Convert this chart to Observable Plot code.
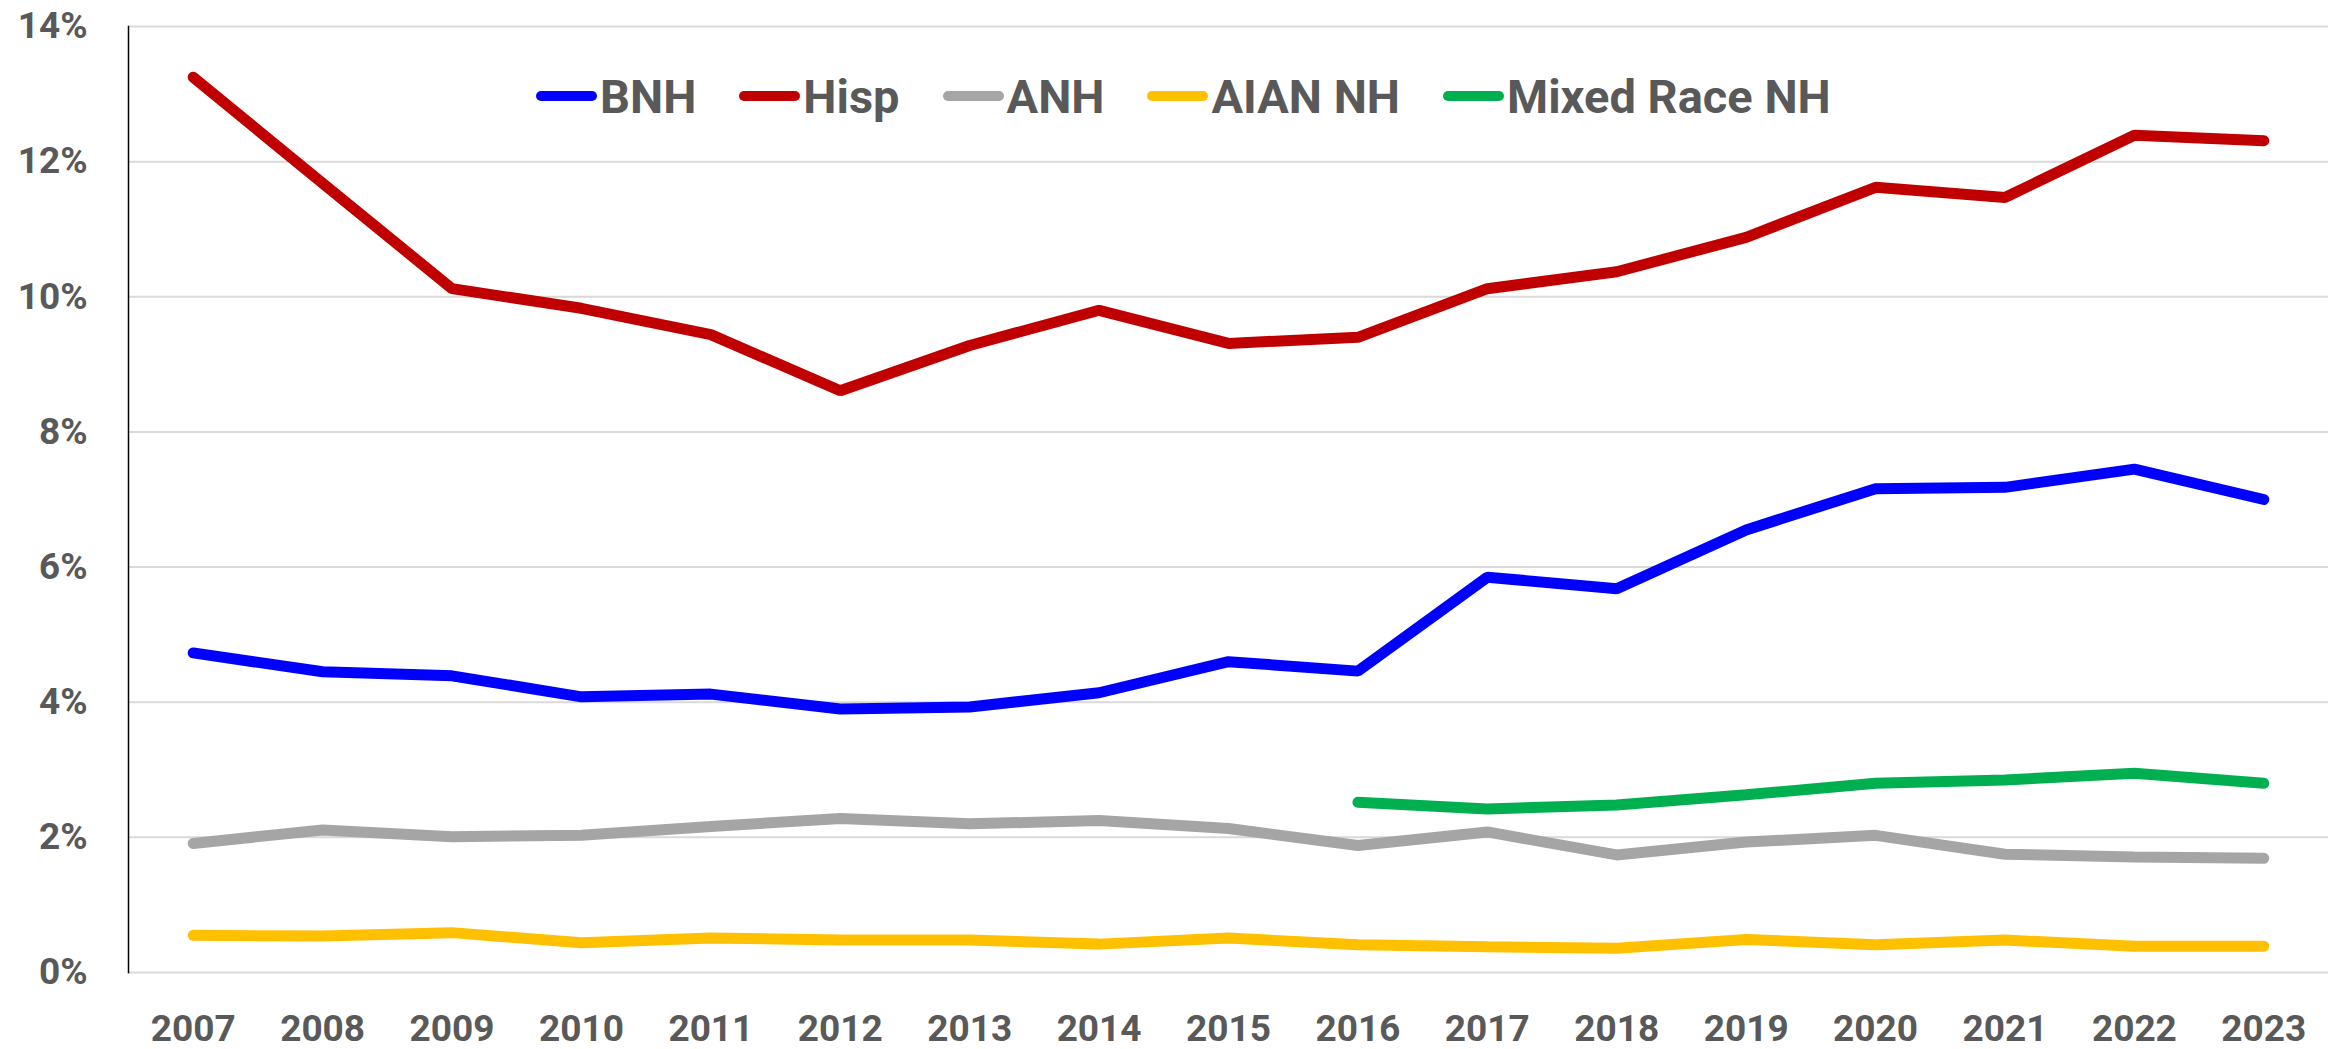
<!DOCTYPE html>
<html>
<head>
<meta charset="utf-8">
<script src="https://cdn.jsdelivr.net/npm/d3@7"></script>
<script src="https://cdn.jsdelivr.net/npm/@observablehq/plot@0.6"></script>
<style>
  html, body { margin: 0; padding: 0; background: #fff; }
  #wrap { position: relative; width: 2341px; height: 1049px; overflow: hidden; }
  #legend { position: absolute; left: 536px; top: 66px; height: 60px; display: flex; align-items: center;
            font-family: Roboto, "Open Sans", sans-serif; font-weight: bold; font-size: 47px; color: #595959; }
  .item { display: flex; align-items: center; margin-right: 43px; }
  .sw { width: 61px; height: 10px; border-radius: 5px; margin-right: 3px; }
</style>
</head>
<body>
<div id="wrap"><div id="legend"></div></div>
<script>
const years = [2007,2008,2009,2010,2011,2012,2013,2014,2015,2016,2017,2018,2019,2020,2021,2022,2023];
const bnh   = [4.73,4.45,4.39,4.08,4.12,3.90,3.93,4.14,4.60,4.46,5.85,5.68,6.55,7.16,7.18,7.45,7.00];
const hisp  = [13.25,11.68,10.12,9.83,9.44,8.61,9.28,9.80,9.31,9.40,10.12,10.37,10.88,11.62,11.47,12.39,12.31];
const anh   = [1.91,2.11,2.01,2.03,2.16,2.28,2.20,2.25,2.13,1.88,2.08,1.74,1.93,2.03,1.75,1.71,1.69];
const aian  = [0.55,0.54,0.59,0.44,0.51,0.48,0.48,0.42,0.51,0.41,0.38,0.36,0.49,0.41,0.48,0.39,0.39];
const mixed = [null,null,null,null,null,null,null,null,null,2.52,2.42,2.48,2.63,2.80,2.85,2.95,2.80];
const seriesNames = ["BNH","Hisp","ANH","AIAN NH","Mixed Race NH"];
const seriesColors = ["#0000FF","#C00000","#A5A5A5","#FFC000","#00B050"];
const yTicks = [0,2,4,6,8,10,12,14];

const seriesValues = [bnh, hisp, anh, aian, mixed];
const rows = [];
seriesNames.forEach((name, i) => {
  years.forEach((yr, j) => {
    const v = seriesValues[i][j];
    if (v != null) rows.push({series: name, year: yr, value: v});
  });
});

const chart = Plot.plot({
  width: 2341,
  height: 1049,
  marginLeft: 128,
  marginRight: 13,
  marginTop: 26,
  marginBottom: 77,
  style: {fontFamily: "Roboto, 'Open Sans', sans-serif", fontWeight: "bold", fontSize: "37px", color: "#595959", background: "white"},
  x: {domain: [2006.5, 2023.5], ticks: years, tickFormat: d => String(d), tickSize: 0, tickPadding: 42, label: null},
  y: {domain: [0, 14], ticks: yTicks, tickFormat: d => d + "%", tickSize: 0, tickPadding: 41, label: null},
  color: {domain: seriesNames, range: seriesColors},
  marks: [
    Plot.ruleY(yTicks, {stroke: "#D9D9D9", strokeWidth: 2}),
    Plot.frame({anchor: "left", stroke: "#000", strokeWidth: 1.5}),
    Plot.line(rows, {x: "year", y: "value", z: "series", stroke: "series", strokeWidth: 11,
                     strokeLinecap: "round", strokeLinejoin: "miter"}),
    Plot.axisX({ticks: years, tickFormat: d => String(d), tickSize: 0, tickPadding: 42, fill: "#595959"}),
    Plot.axisY({ticks: yTicks, tickFormat: d => d + "%", tickSize: 0, tickPadding: 41, fill: "#595959"})
  ]
});
document.getElementById("wrap").insertBefore(chart, document.getElementById("legend"));

const legend = document.getElementById("legend");
seriesNames.forEach((name, i) => {
  const item = document.createElement("div");
  item.className = "item";
  const sw = document.createElement("div");
  sw.className = "sw";
  sw.style.background = seriesColors[i];
  const t = document.createElement("span");
  t.textContent = name;
  item.appendChild(sw);
  item.appendChild(t);
  legend.appendChild(item);
});
</script>
</body>
</html>
